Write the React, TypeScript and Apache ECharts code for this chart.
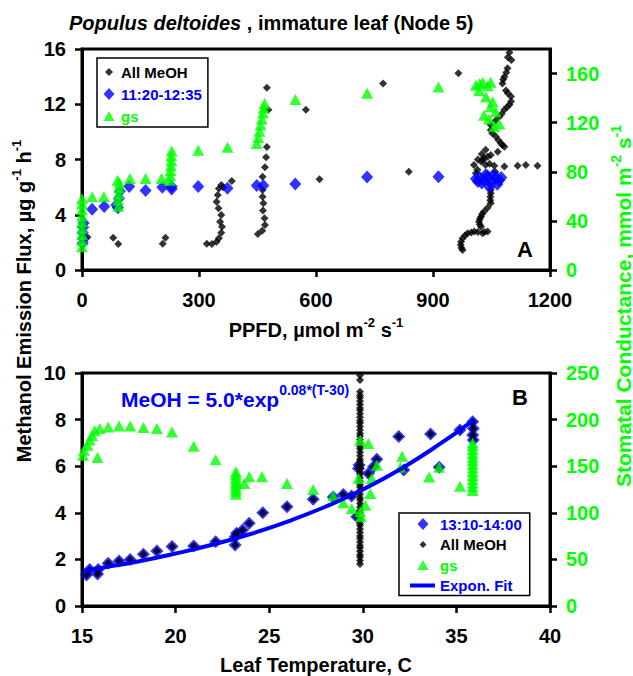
import React, { useEffect, useRef } from "react";
import * as echarts from "echarts";

const BLACK = "#000000";
const BLUE = "#0000ff";
const GREEN = "#00ff00";
const FONT = "'Liberation Sans', Arial, Helvetica, sans-serif";

// ---- Panel A: PPFD response ----
const allMeohA: number[][] = [
  [14, 2.37], [80, 2.34], [93, 1.88], [207, 1.9], [214, 2.33], [320, 1.9],
  [333, 1.88], [345, 2.05], [351, 2.3], [357, 2.7], [359, 3.14], [354, 3.5], [357, 3.98],
  [350, 4.47], [345, 4.95], [348, 5.43], [351, 5.9], [357, 6.16], [362, 6.0], [384, 6.45],
  [451, 2.6], [462, 2.85], [469, 3.26], [468, 3.74], [464, 4.3], [465, 4.83], [463, 5.3],
  [463, 5.8], [463, 6.76], [469, 7.44], [472, 8.17], [474, 8.9], [478, 11.6], [474, 13.2],
  [574, 11.6], [609, 6.57], [772, 13.5], [838, 7.12], [965, 14.25],
  [1096, 15.75], [1101, 15.2], [1092, 15.4], [1091, 14.6], [1088, 14.3], [1083, 14.0],
  [1080, 13.8], [1078, 13.5], [1087, 13.0], [1092, 12.8], [1100, 12.56], [1100, 12.2],
  [1096, 11.96], [1090, 11.8], [1083, 11.6], [1076, 11.3], [1070, 11.1], [1060, 10.8],
  [1048, 10.5], [1048, 10.14], [1052, 9.9], [1061, 9.66], [1068, 9.4], [1074, 9.18],
  [1078, 9.05], [1083, 8.93], [1066, 8.57], [1048, 8.33], [1040, 8.2], [1031, 8.1],
  [1028, 7.95], [1023, 7.85], [1035, 8.7], [1025, 8.4], [1015, 8.0], [1005, 7.6],
  [1035, 7.6], [1045, 7.7], [1057, 7.54], [1083, 7.49], [1117, 7.54], [1138, 7.6],
  [1168, 7.54], [1014, 7.25], [1010, 7.0], [1060, 7.1], [1045, 6.2], [1048, 5.8],
  [1048, 5.55], [1047, 5.3], [1047, 5.05], [1048, 4.83], [1040, 4.5], [1031, 4.23],
  [1026, 4.05], [1023, 3.86], [1020, 3.7], [1018, 3.5], [1020, 3.3], [1023, 3.14],
  [1040, 2.78], [1032, 2.75], [1027, 2.66], [1015, 2.75], [1006, 2.78], [998, 2.72],
  [989, 2.66], [982, 2.5], [976, 2.3], [972, 2.05], [971, 1.81], [973, 1.6], [976, 1.45],
];

const blueA: number[][] = [
  [2, 1.95], [3, 2.3], [2, 2.7], [3, 3.1], [4, 3.4], [26, 4.4], [57, 4.59], [88, 4.7],
  [92, 4.5], [95, 5.2], [97, 5.7], [121, 6.04], [163, 5.75], [206, 5.99], [230, 5.87],
  [230, 6.04], [298, 6.04], [373, 5.92], [448, 6.11], [465, 6.11], [547, 6.23],
  [731, 6.74], [914, 6.76],
  [1010, 6.6], [1015, 6.4], [1020, 6.7], [1025, 6.3], [1030, 6.5], [1035, 6.9],
  [1040, 6.8], [1045, 6.0], [1050, 6.4], [1055, 6.9], [1060, 6.6], [1065, 6.2],
  [1070, 6.5], [1075, 6.7],
];

const gsA: number[][] = [
  [0, 19], [0, 24], [0, 29], [0, 34], [0, 39], [0, 44], [0, 49], [0, 54], [0, 58],
  [26, 59.6], [56, 59.6], [93, 52], [93, 57], [94, 62], [95, 67], [96, 71], [91, 73],
  [123, 74.6], [163, 74.6], [204, 74.6], [225, 73], [226, 77], [227, 81], [228, 85],
  [229, 89], [229, 93], [230, 97], [298, 97.6], [373, 100], [448, 103], [452, 108],
  [455, 113], [458, 118], [461, 123], [464, 128], [466, 132], [468, 135.6],
  [547, 138.9], [731, 144], [914, 149],
  [1010, 150.5], [1020, 152], [1028, 153], [1040, 150], [1048, 153], [1018, 146],
  [1036, 141], [1053, 137], [1048, 133], [1061, 128.8], [1031, 126], [1044, 123],
  [1070, 119], [1057, 116.6],
];

// ---- Panel B: leaf temperature response ----
const blueB: number[][] = [
  [15.24, 1.33], [15.41, 1.57], [15.83, 1.37], [15.86, 1.57], [16.4, 1.83], [16.98, 1.93],
  [17.57, 2.0], [18.28, 2.22], [19.0, 2.36], [19.81, 2.55], [20.97, 2.58], [22.14, 2.76],
  [23.18, 2.97], [23.18, 2.62], [23.26, 3.12], [23.58, 3.26], [23.93, 3.55], [24.66, 4.0],
  [25.95, 4.26], [27.35, 4.58], [28.42, 4.68], [28.96, 4.79], [29.4, 4.72], [29.68, 3.83],
  [29.77, 5.9], [29.8, 6.05], [30.3, 5.69], [30.57, 5.98], [30.75, 6.3], [31.92, 7.27],
  [33.62, 7.38], [32.19, 5.84], [34.08, 5.95], [35.19, 7.55], [35.87, 7.91], [35.9, 7.62],
  [35.87, 7.34], [35.9, 7.12],
];

// All MeOH at the 29.85 C hold: a dense column of readings
const holdTemp = 29.85;
const holdFlux = [
  1.8, 1.95, 2.1, 2.2, 2.35, 2.5, 2.6, 2.75, 2.9, 3.0, 3.15, 3.3, 3.45, 3.55, 3.7, 3.85,
  4.0, 4.1, 4.25, 4.4, 4.55, 4.65, 4.8, 4.95, 5.1, 5.2, 5.35, 5.5, 5.65, 5.75, 5.9, 6.05,
  6.2, 6.3, 6.45, 6.6, 6.75, 6.85, 7.0, 7.15, 7.3, 7.4, 7.55, 7.7, 7.85, 7.95, 8.1, 8.25,
  8.4, 8.5, 8.65, 8.8, 8.95, 9.05, 9.2, 9.7, 9.9,
];

const gsB: number[][] = [
  [15.05, 161.8], [15.1, 167], [15.29, 172.5], [15.41, 178], [15.54, 183], [15.68, 188],
  [15.83, 159.3], [15.95, 190.4], [16.4, 192], [16.98, 193], [17.57, 193], [18.28, 191.4],
  [19.0, 190.4], [19.81, 186.8], [20.97, 171.4], [22.14, 157],
  [23.22, 120], [23.22, 123], [23.22, 126], [23.22, 129], [23.22, 132], [23.22, 135],
  [23.22, 138], [23.22, 141], [23.22, 144], [23.67, 131.4], [23.93, 138.6], [24.62, 138.6],
  [25.95, 131.4], [27.35, 125], [28.42, 117.9], [28.96, 110.7], [29.41, 104.6],
  [29.86, 177.9], [30.3, 174.3], [29.77, 136.8], [29.86, 101], [29.9, 95.7], [30.13, 108],
  [30.4, 120.7], [30.48, 136.8], [30.75, 151], [32.1, 160.7], [32.01, 149], [33.54, 138.5],
  [34.08, 149], [35.19, 128.6],
  [35.87, 124], [35.87, 128], [35.87, 132], [35.87, 136], [35.87, 140], [35.87, 144],
  [35.87, 148], [35.87, 152], [35.87, 156], [35.87, 160], [35.87, 164], [35.87, 168],
  [35.87, 172], [35.87, 175],
];

// exponential fit curve
const fitTemp = [15.1, 16, 18, 20, 22, 24, 26, 28, 30, 32, 34, 35.9];
const fitFlux = [1.5, 1.63, 1.91, 2.25, 2.64, 3.09, 3.63, 4.26, 5.0, 5.87, 6.89, 7.97];

// legend icons: tiny corner specks pin the path box to the legend item box
const box14 = "M0,0L0.02,0L0.02,0.02ZM14,14L13.98,14L13.98,13.98Z";
const box25 = "M0,0L0.02,0L0.02,0.02ZM25,14L24.98,14L24.98,13.98Z";
const iconsA = {
  black: `path://${box14}M7,3L11,7L7,11L3,7Z`,
  blue: `path://${box14}M7,1L12.5,7L7,13L1.5,7Z`,
  green: `path://${box14}M7,2L12.5,12L1.5,12Z`,
};
const iconsB = {
  black: `path://${box25}M13,3.5L16.5,7L13,10.5L9.5,7Z`,
  blue: `path://${box25}M13,1L18.5,7L13,13L7.5,7Z`,
  green: `path://${box25}M13,2L18.5,12L7.5,12Z`,
  line: `path://${box25}M0,5L25,5L25,9L0,9Z`,
};

const supRich = (size: number, color: string) => ({
  n: { fontSize: size, fontWeight: "bold", fontFamily: FONT, color, fill: color, lineHeight: size + 8 },
  s: {
    fontSize: Math.round(size * 0.65),
    fontWeight: "bold",
    fontFamily: FONT,
    color,
    fill: color,
    lineHeight: Math.round(size * 0.65),
    verticalAlign: "top",
  },
});

const App = () => {
  const chartRef = useRef<HTMLDivElement>(null);

  useEffect(() => {
    if (!chartRef.current) return;
    const chart = echarts.init(chartRef.current, undefined, { renderer: "svg" });

    const axisLine = { show: true, lineStyle: { color: BLACK, width: 3 } };
    const axisTick = { show: true, inside: false, length: 7, lineStyle: { color: BLACK, width: 2.5 } };
    const label = (color: string, margin: number) => ({
      color,
      fontSize: 20,
      fontWeight: "bold",
      fontFamily: FONT,
      margin,
      formatter: (v: number) => String(v),
    });
    const legendText = { fontSize: 15, fontWeight: "bold", fontFamily: FONT, lineHeight: 16 };

    const options = {
      animation: false,
      textStyle: { fontFamily: FONT, fontWeight: "bold" },
      title: {
        text: "{i|Populus deltoides}{n| , immature leaf (Node 5)}",
        left: 64,
        top: 8,
        textStyle: {
          rich: {
            i: { fontSize: 20, fontStyle: "italic", fontWeight: "bold", fontFamily: FONT, color: BLACK },
            n: { fontSize: 20, fontWeight: "bold", fontFamily: FONT, color: BLACK },
          },
        },
      },
      grid: [
        { left: 82, top: 49, width: 468, height: 221, show: true, borderColor: BLACK, borderWidth: 3 },
        { left: 82, top: 373, width: 468, height: 233, show: true, borderColor: BLACK, borderWidth: 3 },
      ],
      xAxis: [
        {
          type: "value",
          gridIndex: 0,
          min: 0,
          max: 1200,
          interval: 300,
          axisLine,
          axisTick,
          axisLabel: label(BLACK, 20),
          splitLine: { show: false },
          name: "{n|PPFD, µmol m}{s|-2}{n| s}{s|-1}",
          nameLocation: "middle",
          nameGap: 46,
          nameTextStyle: { rich: supRich(20, BLACK) },
        },
        {
          type: "value",
          gridIndex: 1,
          min: 15,
          max: 40,
          interval: 5,
          axisLine,
          axisTick,
          axisLabel: label(BLACK, 20),
          splitLine: { show: false },
          name: "{n|Leaf Temperature, C}",
          nameLocation: "middle",
          nameGap: 45,
          nameTextStyle: { rich: supRich(20, BLACK) },
        },
      ],
      yAxis: [
        {
          type: "value",
          gridIndex: 0,
          min: 0,
          max: 16,
          interval: 4,
          axisLine,
          axisTick,
          axisLabel: label(BLACK, 16),
          splitLine: { show: false },
        },
        {
          type: "value",
          gridIndex: 0,
          position: "right",
          min: 0,
          max: 180,
          interval: 40,
          axisLine,
          axisTick: { ...axisTick, customValues: [0, 40, 80, 120, 160] },
          axisLabel: { ...label(GREEN, 16), customValues: [0, 40, 80, 120, 160] },
          splitLine: { show: false },
        },
        {
          type: "value",
          gridIndex: 1,
          min: 0,
          max: 10,
          interval: 2,
          axisLine,
          axisTick,
          axisLabel: label(BLACK, 16),
          splitLine: { show: false },
        },
        {
          type: "value",
          gridIndex: 1,
          position: "right",
          min: 0,
          max: 250,
          interval: 50,
          axisLine,
          axisTick,
          axisLabel: label(GREEN, 16),
          splitLine: { show: false },
        },
      ],
      legend: [
        {
          orient: "vertical",
          left: 97,
          top: 58,
          padding: [6, 6, 3, 5],
          itemGap: 6,
          itemWidth: 14,
          itemHeight: 14,
          borderColor: BLACK,
          borderWidth: 1.5,
          backgroundColor: "#ffffff",
          selectedMode: false,
          textStyle: legendText,
          data: [
            { name: "All MeOH", icon: iconsA.black, textStyle: { color: BLACK } },
            { name: "11:20-12:35", icon: iconsA.blue, textStyle: { color: BLUE } },
            { name: "gs", icon: iconsA.green, textStyle: { color: GREEN } },
          ],
        },
        {
          orient: "vertical",
          left: 399,
          top: 513,
          padding: [3, 8, 2, 11],
          itemGap: 4.5,
          itemWidth: 25,
          itemHeight: 14,
          borderColor: BLACK,
          borderWidth: 1.5,
          backgroundColor: "#ffffff",
          selectedMode: false,
          textStyle: legendText,
          data: [
            { name: "13:10-14:00", icon: iconsB.blue, textStyle: { color: BLUE } },
            { name: "All MeOH", icon: iconsB.black, textStyle: { color: BLACK } },
            { name: "gs", icon: iconsB.green, textStyle: { color: GREEN } },
            { name: "Expon. Fit", icon: iconsB.line, textStyle: { color: BLUE } },
          ],
        },
      ],
      series: [
        {
          name: "All MeOH",
          type: "scatter",
          xAxisIndex: 0,
          yAxisIndex: 0,
          symbol: "diamond",
          symbolSize: 8,
          itemStyle: { color: BLACK },
          data: allMeohA,
        },
        {
          name: "11:20-12:35",
          type: "scatter",
          xAxisIndex: 0,
          yAxisIndex: 0,
          symbol: "diamond",
          symbolSize: [12, 13],
          itemStyle: { color: BLUE },
          data: blueA,
        },
        {
          name: "gs",
          type: "scatter",
          xAxisIndex: 0,
          yAxisIndex: 1,
          symbol: "triangle",
          symbolSize: [12, 11],
          itemStyle: { color: GREEN },
          data: gsA,
        },
        {
          name: "13:10-14:00",
          type: "scatter",
          xAxisIndex: 1,
          yAxisIndex: 2,
          symbol: "diamond",
          symbolSize: 13,
          itemStyle: { color: BLUE },
          data: blueB,
        },
        {
          name: "All MeOH",
          type: "scatter",
          xAxisIndex: 1,
          yAxisIndex: 2,
          symbol: "diamond",
          symbolSize: 8,
          itemStyle: { color: BLACK },
          data: [...blueB, ...holdFlux.map((f) => [holdTemp, f])],
        },
        {
          name: "gs",
          type: "scatter",
          xAxisIndex: 1,
          yAxisIndex: 3,
          symbol: "triangle",
          symbolSize: [12, 11],
          itemStyle: { color: GREEN },
          data: gsB,
        },
        {
          name: "Expon. Fit",
          type: "line",
          xAxisIndex: 1,
          yAxisIndex: 2,
          symbol: "none",
          smooth: true,
          lineStyle: { color: BLUE, width: 4 },
          itemStyle: { color: BLUE },
          data: fitTemp.map((t, i) => [t, fitFlux[i]]),
        },
      ],
      graphic: [
        {
          type: "text",
          x: 24,
          y: 301,
          rotation: Math.PI / 2,
          style: {
            text: "{n|Methanol Emission Flux, µg g}{s|-1}{n| h}{s|-1}",
            rich: supRich(20, BLACK),
            fill: BLACK,
            align: "center",
            verticalAlign: "middle",
          },
        },
        {
          type: "text",
          x: 623,
          y: 306,
          rotation: Math.PI / 2,
          style: {
            text: "{n|Stomatal Conductance, mmol m}{s|-2}{n| s}{s|-1}",
            rich: supRich(21, GREEN),
            fill: GREEN,
            align: "center",
            verticalAlign: "middle",
          },
        },
        {
          type: "text",
          x: 121,
          y: 399,
          style: {
            text: "{n|MeOH = 5.0*exp}{s|0.08*(T-30)}",
            rich: {
              n: { fontSize: 21, fontWeight: "bold", fontFamily: FONT, fill: BLUE, color: BLUE, lineHeight: 32 },
              s: { fontSize: 14, fontWeight: "bold", fontFamily: FONT, fill: BLUE, color: BLUE, lineHeight: 14, verticalAlign: "top" },
            },
            fill: BLUE,
            align: "left",
            verticalAlign: "middle",
          },
        },
        {
          type: "text",
          x: 525,
          y: 249,
          style: {
            text: "A",
            fontSize: 22,
            fontWeight: "bold",
            fontFamily: FONT,
            fill: BLACK,
            align: "center",
            verticalAlign: "middle",
          },
        },
        {
          type: "text",
          x: 520,
          y: 397,
          style: {
            text: "B",
            fontSize: 22,
            fontWeight: "bold",
            fontFamily: FONT,
            fill: BLACK,
            align: "center",
            verticalAlign: "middle",
          },
        },
      ],
    };

    chart.setOption(options);

    const handleResize = () => chart.resize();
    window.addEventListener("resize", handleResize);

    return () => {
      window.removeEventListener("resize", handleResize);
      chart.dispose();
    };
  }, []);

  return (
    <div
      ref={chartRef}
      style={{ position: "absolute", left: 0, top: 0, width: "633px", height: "676px", background: "#ffffff" }}
    />
  );
};

export default App;
